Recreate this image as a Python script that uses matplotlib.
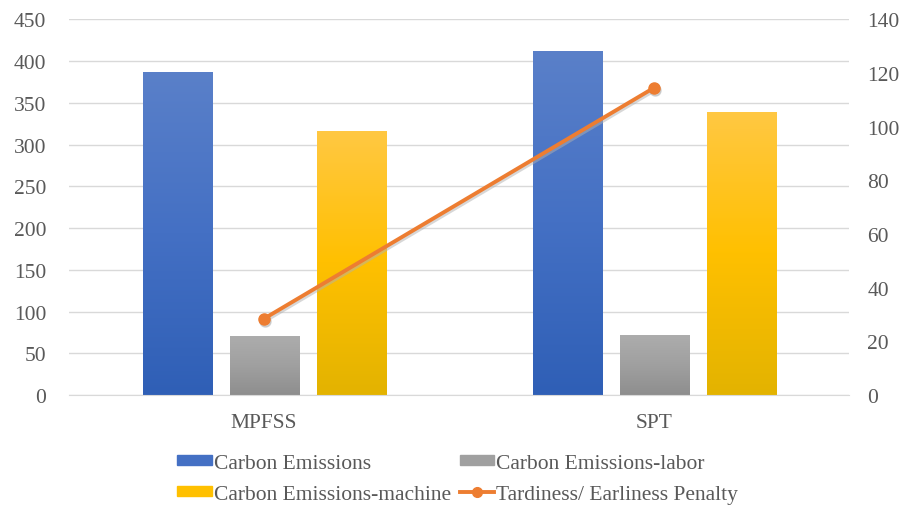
import numpy as np
import matplotlib
matplotlib.use("Agg")
import matplotlib.pyplot as plt
from matplotlib.colors import LinearSegmentedColormap
from matplotlib.patches import Patch
from matplotlib.lines import Line2D
from matplotlib.transforms import ScaledTranslation

categories = ["MPFSS", "SPT"]
carbon_total = [387, 412]
carbon_labor = [71, 72]
carbon_machine = [316, 339]
penalty = [28.5, 114.5]

plt.rcParams['font.family'] = ['Liberation Serif', 'DejaVu Serif']
txt_color = '#595959'
fs = 15.5

fig = plt.figure(figsize=(9.03, 5.06), dpi=100)
ax = fig.add_axes([0.0764, 0.217, 0.864, 0.743])
ax2 = ax.twinx()

x = np.arange(len(categories))
w = 0.177
offs = [-0.223, 0.0, 0.223]

grads = [
    ['#5a80c9', '#4470c4', '#2f5fb6'],
    ['#adadad', '#a0a0a0', '#8e8e8e'],
    ['#ffc843', '#ffc000', '#e3b300'],
]
series = [carbon_total, carbon_labor, carbon_machine]

for vals, off, cols in zip(series, offs, grads):
    bars = ax.bar(x + off, vals, w, color=cols[1], zorder=2)
    cmap = LinearSegmentedColormap.from_list('g', cols[::-1])
    grad = np.linspace(0, 1, 256).reshape(-1, 1)
    for b in bars:
        bx, by = b.get_x(), b.get_y()
        im = ax.imshow(grad, cmap=cmap, aspect='auto', origin='lower',
                       extent=[bx, bx + b.get_width(), by, by + b.get_height()],
                       zorder=2.1)
        im.set_clip_path(b)
ax.set_xlim(-0.5, 1.5)
ax.set_ylim(0, 450)

ax.set_yticks(np.arange(0, 451, 50))
ax.grid(axis='y', color='#d9d9d9', linewidth=1, zorder=0)
ax.set_axisbelow(True)
ax.set_xticks(x)
ax.set_xticklabels(categories)
for a in (ax, ax2):
    for s in a.spines.values():
        s.set_visible(False)
    a.tick_params(length=0, labelsize=fs, colors=txt_color)
ax.spines['bottom'].set_visible(True)
ax.spines['bottom'].set_color('#d9d9d9')
ax.tick_params(axis='x', pad=13)
ax.tick_params(axis='y', pad=16.5)

ax2.set_ylim(0, 140)
ax2.set_yticks(np.arange(0, 141, 20))
ax2.tick_params(axis='y', pad=13)
shadow = ax2.transData + ScaledTranslation(1/100, -2/100, fig.dpi_scale_trans)
ax2.plot(x, penalty, color='#b0b0b0', alpha=0.5, linewidth=3, marker='o',
         markersize=8, zorder=3, transform=shadow)
ax2.plot(x, penalty, color='#ed7d31', linewidth=2.8, marker='o', markersize=8, zorder=4)

handles = [
    Patch(color=grads[0][1]),
    Patch(color=grads[2][1]),
    Patch(color=grads[1][1]),
    Line2D([], [], color='#ed7d31', linewidth=2.8, marker='o', markersize=7),
]
labels = ["Carbon Emissions", "Carbon Emissions-machine",
          "Carbon Emissions-labor", "Tardiness/ Earliness Penalty"]
leg = fig.legend(handles, labels, loc='lower center', bbox_to_anchor=(0.507, -0.036),
                 ncol=2, frameon=False, fontsize=fs, handlelength=1.6,
                 handleheight=0.35, handletextpad=0.1, columnspacing=0.4,
                 labelspacing=0.55)
for t in leg.get_texts():
    t.set_color(txt_color)

fig.savefig('out.png', dpi=100)
